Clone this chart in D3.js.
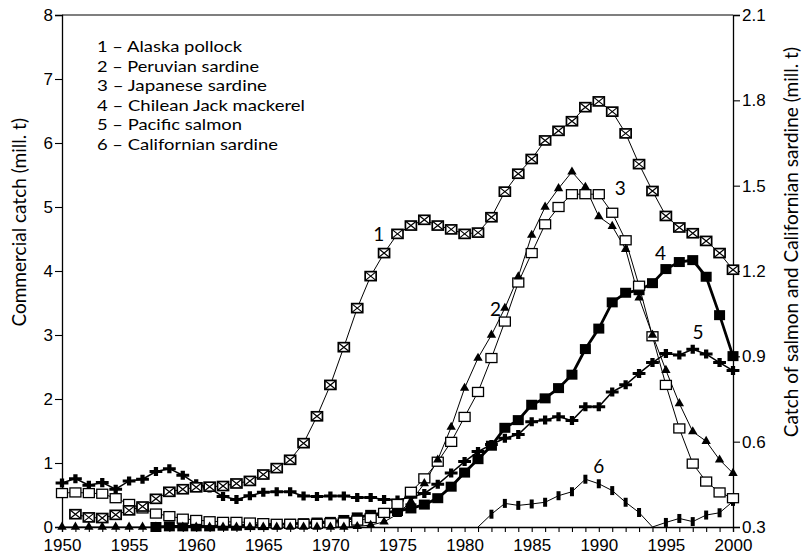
<!DOCTYPE html>
<html><head><meta charset="utf-8">
<script src="https://cdn.jsdelivr.net/npm/d3@7"></script>
<style>html,body{margin:0;padding:0;background:#fff;}svg{display:block;}</style>
</head><body>
<svg id="chart" width="810" height="557"></svg>
<script>
const years = [1950,1951,1952,1953,1954,1955,1956,1957,1958,1959,1960,1961,1962,1963,1964,1965,1966,1967,1968,1969,1970,1971,1972,1973,1974,1975,1976,1977,1978,1979,1980,1981,1982,1983,1984,1985,1986,1987,1988,1989,1990,1991,1992,1993,1994,1995,1996,1997,1998,1999,2000];
const xTickLabels = [1950,1955,1960,1965,1970,1975,1980,1985,1990,1995,2000];
const leftTicks = [0,1,2,3,4,5,6,7,8];
const rightTicks = [0.3,0.6,0.9,1.2,1.5,1.8,2.1];
const legendItems = ["1 – Alaska pollock","2 – Peruvian sardine","3 – Japanese sardine","4 – Chilean Jack mackerel","5 – Pacific salmon","6 – Californian sardine"];

// Left axis series (mill. t)
const alaskaPollock = [null,0.20,0.15,0.14,0.19,0.26,0.32,0.44,0.55,0.59,0.62,0.63,0.64,0.68,0.72,0.82,0.92,1.05,1.31,1.73,2.22,2.81,3.42,3.92,4.28,4.58,4.71,4.80,4.71,4.65,4.58,4.60,4.84,5.24,5.52,5.75,6.04,6.19,6.34,6.56,6.65,6.49,6.15,5.67,5.25,4.86,4.68,4.59,4.47,4.28,4.02];
const peruvianSardine = [0,0,0,0,0,0,0,0,0,0,0,0,0,0,0,0,0,0,0,0,0,0,0.01,0.03,0.08,0.20,0.40,0.68,1.05,1.56,2.17,2.64,3.00,3.42,3.91,4.56,5.00,5.29,5.55,5.31,4.85,4.70,4.34,3.58,3.00,2.45,1.93,1.49,1.34,1.05,0.84];
const japaneseSardine = [0.53,0.54,0.53,0.52,0.45,0.36,0.29,0.21,0.17,0.13,0.11,0.09,0.08,0.08,0.07,0.06,0.05,0.05,0.05,0.05,0.06,0.07,0.10,0.14,0.22,0.36,0.55,0.76,1.02,1.33,1.72,2.11,2.64,3.21,3.82,4.28,4.73,5.00,5.20,5.20,5.20,4.91,4.48,3.77,2.98,2.22,1.54,0.99,0.71,0.54,0.45];
const chileanJackMackerel = [null,null,null,null,null,null,null,0.00,0.01,0.01,0.01,0.01,0.02,0.02,0.03,0.03,0.04,0.05,0.06,0.07,0.08,0.11,0.15,0.19,0.22,0.25,0.29,0.35,0.45,0.63,0.85,1.06,1.27,1.55,1.67,1.91,2.01,2.17,2.38,2.78,3.10,3.51,3.66,3.70,3.81,4.03,4.14,4.17,3.91,3.31,2.67];
// Right axis series (mill. t)
const pacificSalmon = [0.455,0.470,0.447,0.456,0.433,0.462,0.468,0.495,0.505,0.482,0.452,0.437,0.407,0.397,0.410,0.422,0.424,0.424,0.409,0.407,0.409,0.409,0.404,0.404,0.397,0.395,0.405,0.418,0.450,0.490,0.530,0.565,0.590,0.612,0.625,0.670,0.676,0.688,0.674,0.723,0.723,0.775,0.800,0.840,0.878,0.910,0.905,0.925,0.908,0.878,0.850];
const californianSardine = [null,null,null,null,null,null,null,null,null,null,null,null,null,null,null,null,null,null,null,null,null,null,null,null,null,null,null,null,null,null,null,0.30,0.345,0.383,0.376,0.381,0.387,0.410,0.424,0.468,0.452,0.428,0.387,0.351,0.30,0.316,0.330,0.319,0.342,0.350,0.390];

const labelFont = "Lato, 'Open Sans', sans-serif";
const tickFont = "'Liberation Sans', Arial, sans-serif";

const svg = d3.select("#chart");
const x = d3.scaleLinear().domain([1950,2000]).range([62,733]);
const yL = d3.scaleLinear().domain([0,8]).range([527,15]);
const yR = d3.scaleLinear().domain([0.3,2.1]).range([527,15]);

// frame top line
svg.append("line").attr("x1",x(1950)).attr("x2",x(2000)).attr("y1",yL(8)).attr("y2",yL(8))
  .attr("stroke","#000").attr("stroke-width",1.2);

// axes
const xAxis = d3.axisBottom(x).tickValues(years).tickSize(5).tickFormat(d => xTickLabels.includes(d) ? d : "");
const gx = svg.append("g").attr("transform",`translate(0,${yL(0)})`).call(xAxis);
gx.selectAll("text").attr("font-family",tickFont).attr("font-size",17).attr("fill","#000").attr("dy","0.72em").attr("y",12);
const gl = svg.append("g").attr("transform",`translate(${x(1950)},0)`).call(d3.axisLeft(yL).tickValues(leftTicks).tickSize(7).tickFormat(d3.format("d")));
gl.selectAll("text").attr("font-family",tickFont).attr("font-size",17).attr("fill","#000").attr("x",-9);
const gr = svg.append("g").attr("transform",`translate(${x(2000)},0)`).call(d3.axisRight(yR).tickValues(rightTicks).tickSize(7).tickFormat(d3.format(".1f")));
gr.selectAll("text").attr("font-family",tickFont).attr("font-size",17).attr("fill","#000").attr("x",9);
svg.selectAll(".domain").attr("stroke","#000").attr("stroke-width",1.3);
svg.selectAll(".tick line").attr("stroke","#000").attr("stroke-width",1.1);

// axis titles
svg.append("text").attr("transform",`translate(26,118) rotate(-90)`).attr("text-anchor","end")
  .attr("font-family",labelFont).attr("font-size",19).text("Commercial catch (mill. t)");
svg.append("text").attr("transform",`translate(798,47) rotate(-90)`).attr("text-anchor","end")
  .attr("font-family",labelFont).attr("font-size",19).text("Catch of salmon and Californian sardine (mill. t)");

// legend
const legendWidths = [145,162,170,208,145,181];
svg.append("g").selectAll("text").data(legendItems).join("text")
  .attr("x",97).attr("y",(d,i)=>52+i*19.6)
  .attr("font-family",labelFont).attr("font-size",16.2)
  .attr("textLength",(d,i)=>legendWidths[i]).attr("lengthAdjust","spacingAndGlyphs")
  .text(d=>d);

function pts(arr, yScale){ return years.map((yr,i)=>({yr, v:arr[i], x:x(yr), y: arr[i]==null?null:yScale(arr[i])})).filter(d=>d.v!=null); }
function drawLine(data, w){
  svg.append("path").datum(data).attr("fill","none").attr("stroke","#000").attr("stroke-width",w)
    .attr("d", d3.line().x(d=>d.x).y(d=>d.y));
}

const sPollock = pts(alaskaPollock,yL), sPeru = pts(peruvianSardine,yL), sJap = pts(japaneseSardine,yL),
      sJack = pts(chileanJackMackerel,yL), sSalmon = pts(pacificSalmon,yR), sCal = pts(californianSardine,yR);

drawLine(sCal,1);
drawLine(sSalmon,1.5);
drawLine(sJack,2.8);
drawLine(sJap,1);
drawLine(sPeru,1);
drawLine(sPollock,1);

// 6 californian sardine: vertical bar
svg.append("g").selectAll("rect").data(sCal.filter(d=>d.v>0.3)).join("rect")
  .attr("x",d=>d.x-2).attr("y",d=>d.y-4.5).attr("width",4).attr("height",9).attr("fill","#000");
// 5 salmon: plus shape
const plus = d3.symbol().type(d3.symbolCross).size(50);
svg.append("g").selectAll("path").data(sSalmon).join("path")
  .attr("transform",d=>`translate(${d.x},${d.y}) scale(1.35,0.95)`).attr("d",plus).attr("fill","#000");
// 4 jack mackerel: black squares
svg.append("g").selectAll("rect").data(sJack).join("rect")
  .attr("x",d=>d.x-5.5).attr("y",d=>d.y-5).attr("width",11).attr("height",10).attr("fill","#000");
// 3 japanese sardine: open squares
svg.append("g").selectAll("rect").data(sJap).join("rect")
  .attr("x",d=>d.x-5.5).attr("y",d=>d.y-4.5).attr("width",11).attr("height",9)
  .attr("fill","#fff").attr("stroke","#000").attr("stroke-width",1.3);
// 2 peruvian sardine: triangles
const tri = d3.symbol().type(d3.symbolTriangle).size(38);
svg.append("g").selectAll("path").data(sPeru).join("path")
  .attr("transform",d=>`translate(${d.x},${d.y})`).attr("d",tri).attr("fill","#000");
// 1 pollock: crossed squares
const gp = svg.append("g").selectAll("g").data(sPollock).join("g").attr("transform",d=>`translate(${d.x},${d.y})`);
gp.append("rect").attr("x",-5.5).attr("y",-4.5).attr("width",11).attr("height",9).attr("fill","#fff").attr("stroke","#000").attr("stroke-width",1.7);
gp.append("path").attr("d","M-5,-4L5,4M-5,4L5,-4").attr("stroke","#000").attr("stroke-width",1.2);

// series number labels
const seriesNumbers = ["1","2","3","4","5","6"];
const numPos = [[1973.6,yL,4.47],[1982.3,yL,3.30],[1991.6,yL,5.19],[1994.6,yL,4.17],[1997.4,yR,0.96],[1990.0,yR,0.49]];
svg.append("g").selectAll("text").data(seriesNumbers).join("text")
  .attr("x",(d,i)=>x(numPos[i][0])).attr("y",(d,i)=>numPos[i][1](numPos[i][2]))
  .attr("text-anchor","middle").attr("font-family",labelFont).attr("font-size",19).text(d=>d);
</script>
</body></html>
